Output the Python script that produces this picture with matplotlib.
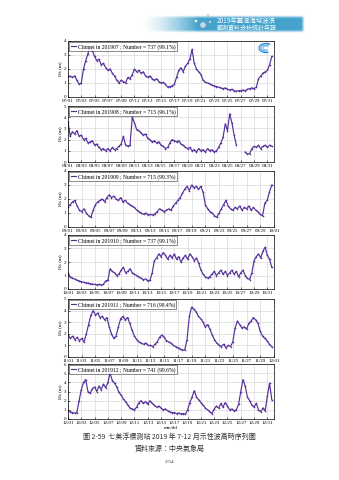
import numpy as np
import pandas as pd
import matplotlib
matplotlib.use("Agg")
import matplotlib.pyplot as plt
import matplotlib.dates as mdates
from matplotlib.patches import Arc, Circle

plt.rcParams['font.family'] = ['Liberation Serif', 'Noto Sans CJK TC', 'DejaVu Sans']

# ---- data: significant wave height, Chimei buoy, 8-hourly readings ----
station = "Chimei"
months = ["2019-07", "2019-08", "2019-09", "2019-10", "2019-11", "2019-12"]
record_counts = [737, 715, 715, 737, 716, 741]
record_rates = ["99.1%", "96.1%", "99.3%", "99.1%", "99.4%", "99.6%"]

hs_jul = [1.45, 1.5, 1.4, 1.5, 1.2, 0.9, 1.0, 2.0, 2.6, 3.1, 3.6, 3.3,
          2.9, 2.6, 2.7, 2.3, 2.4, 2.1, 1.9, 2.0, 1.7, 1.5, 1.2, 1.0,
          1.2, 1.1, 1.0, 1.4, 1.3, 1.6, 2.0, 1.8, 1.9, 1.7, 1.8, 1.5,
          1.4, 1.5, 1.3, 1.2, 1.3, 1.1, 1.0, 1.05, 0.9, 0.7, 0.75, 0.8,
          0.9, 1.4, 1.9, 2.1, 1.8, 2.2, 2.4, 2.7, 3.4, 2.4, 2.0, 1.8,
          1.6, 1.2, 1.05, 1.0, 0.95, 0.85, 0.8, 0.75, 0.7, 0.65, 0.6, 0.65,
          0.55, 0.5, 0.55, 0.45, 0.4, 0.45, 0.45, 0.5, 0.45, 0.55, 0.6, 0.65,
          0.6, 0.7, 1.3, 1.5, 1.7, 1.8, 1.9, 2.3, 2.9]

hs_aug = [3.6, 2.3, 2.7, 2.5, 2.8, 2.3, 2.4, 2.0, 2.1, 1.7, 1.8, 1.9,
          1.5, 1.6, 1.3, 1.1, 1.2, 1.0, 1.2, 1.0, 1.3, 1.1, 1.2, 1.4,
          1.6, 2.3, 1.5, 1.4, 1.5, 4.0, 3.5, 2.9, 2.8, 2.6, 2.4, 2.5,
          2.1, 2.0, 1.8, 1.9, 1.7, 1.8, 1.5, 1.4, 1.2, 1.3, 1.7, 2.0,
          1.9, 1.8, 1.9, 1.6, 1.5, 1.3, 1.2, 1.3, 1.0, 1.1, 0.9, 1.2,
          1.0, 1.1, 0.9, 1.2, 1.0, 1.1, 0.9, 1.0, 1.3, 1.7, 2.2, 3.4,
          2.8, 4.3, 3.5, 2.4, 1.5, np.nan, np.nan, np.nan, 0.9, 0.7, 0.75, 1.2,
          1.4, 1.3, 1.5, 1.2, 1.4, 1.5, 1.3, 1.5, 1.4]

hs_sep = [1.45, 1.6, 1.8, 1.9, 1.5, 1.2, 1.1, 1.3, 1.0, 0.8, 0.7, 1.2,
          1.6, 1.8, 1.9, 2.0, 1.8, 2.1, 2.3, 2.1, 2.2, 2.0, 1.9, 2.1,
          1.8, 1.9, 1.7, 1.6, 1.5, 1.4, 1.2, 1.1, 1.0, 0.9, 1.0, 0.85,
          0.9, 0.85, 0.95, 1.1, 1.3, 1.2, 1.1, 1.2, 1.3, 1.2, 1.5, 1.7,
          1.9, 2.1, 2.4, 2.7, 2.9, 2.6, 3.0, 2.8, 2.9, 2.7, 2.9, 2.5,
          1.6, 1.3, 1.1, 1.0, 0.8, 0.7, 1.0, 1.3, 1.6, 1.9, 1.5, 1.3,
          1.2, 1.4, 1.3, 1.5, 1.2, 1.4, 1.3, 1.5, 1.2, 1.4, 1.2, 1.1,
          0.9, 0.8, 1.7, 1.9, 2.5, 3.0]

hs_oct = [1.2, 0.9, 0.8, 0.75, 0.65, 0.6, 0.55, 0.5, 0.45, 0.45, 0.4, 0.35,
          0.35, 0.3, 0.35, 0.3, 0.35, 0.6, 0.65, 1.5, 1.3, 1.2, 1.0, 1.1,
          1.4, 1.6, 1.2, 1.3, 1.5, 1.2, 1.1, 1.0, 0.9, 0.8, 0.7, 0.75,
          0.6, 0.65, 1.2, 2.1, 2.3, 2.6, 2.4, 2.7, 2.5, 2.2, 2.5, 2.3,
          2.6, 2.2, 2.4, 2.0, 2.3, 2.5, 2.2, 2.6, 2.4, 2.1, 2.3, 1.9,
          1.4, 1.1, 0.9, 0.8, 0.9, 1.1, 1.3, 1.0, 1.2, 1.4, 1.1, 1.3,
          1.0, 1.2, 1.4, 1.1, 1.3, 0.9, 1.2, 1.4, 1.0, 0.8, 0.7, 1.2,
          2.1, 2.4, 2.6, 2.3, 2.8, 3.1, 2.5, 2.2, 1.6]

hs_nov = [1.9, 1.6, 1.8, 1.5, 1.7, 1.4, 1.6, 1.3, 2.0, 2.8, 3.6, 4.0,
          3.6, 3.8, 3.4, 3.5, 3.2, 3.4, 2.6, 2.0, 1.6, 1.8, 2.6, 3.3,
          3.5, 3.2, 3.4, 2.9, 2.3, 1.8, 1.5, 1.3, 1.2, 1.1, 1.2, 1.0,
          1.0, 0.9, 1.1, 1.3, 1.7, 1.9, 1.7, 1.4, 1.3, 1.2, 1.0, 0.9,
          0.8, 0.7, 0.6, 0.6, 1.5, 3.5, 4.3, 4.1, 3.9, 3.5, 3.3, 3.0,
          2.6, 2.8, 2.4, 1.9, 1.5, 1.2, 1.0, 0.9, 1.1, 0.8, 1.0, 0.9,
          1.3, 2.5, 3.1, 2.8, 2.5, 2.6, 2.4, 2.9, 3.1, 3.4, 3.2, 2.9,
          2.2, 1.8, 1.6, 1.4, 1.1, 0.9]

hs_dec = [1.0, 0.8, 0.7, 0.65, 0.7, 2.0, 3.2, 4.0, 4.3, 3.0, 2.8, 3.3,
          3.5, 3.0, 3.6, 3.2, 3.8, 3.4, 4.0, 5.0, 4.2, 3.9, 3.5, 2.9,
          2.6, 2.2, 1.9, 1.5, 1.2, 1.1, 1.0, 1.3, 1.8, 2.0, 1.7, 1.9,
          1.6, 2.0, 1.7, 1.5, 1.3, 1.4, 1.2, 1.0, 1.1, 0.9, 0.8, 0.7,
          0.7, 0.6, 0.65, 0.55, 0.6, 0.5, 1.0, 1.8, 2.4, 3.1, 2.4, 2.1,
          1.8, 1.5, 1.2, 1.0, 0.8, 0.6, 1.1, 1.4, 1.2, 1.7, 1.3, 1.8,
          1.4, 1.0, 1.1, 0.9, 1.0, 1.6, 3.0, 4.3, 3.6, 2.4, 2.0, 1.5,
          1.3, 1.7, 1.0, 0.8, 1.2, 0.9, 2.5, 3.9, 2.1]

series = [hs_jul, hs_aug, hs_sep, hs_oct, hs_nov, hs_dec]
y_tops = [4, 5, 4, 4, 5, 6]

# ---- layout (pixel boxes of the six panels) ----
W, H = 339, 480
fig = plt.figure(figsize=(W / 100, H / 100), dpi=100)
left_px, right_px = 68, 274
tops_px = [41, 106, 171, 235, 299, 364]
bots_px = [97, 162, 227, 289, 357, 419]

line_color = '#55309a'
grid_color = '#cfcfcf'

for i, (month, vals) in enumerate(zip(months, series)):
    ax = fig.add_axes([left_px / W, 1 - bots_px[i] / H,
                       (right_px - left_px) / W, (bots_px[i] - tops_px[i]) / H])
    start = pd.Timestamp(month + "-01")
    end = start + pd.offsets.MonthBegin(1)
    times = pd.date_range(start, periods=len(vals), freq='8h')
    label = f"{station} in {month.replace('-', '')} ; Number = {record_counts[i]} ({record_rates[i]})"
    ax.plot(times, vals, color=line_color, lw=0.85, marker='+', ms=1.6,
            mew=0.4, label=label)
    ax.set_xlim(start, end)
    ax.set_ylim(0, y_tops[i])
    ax.set_yticks(range(0, y_tops[i] + 1))
    ax.set_xticks(pd.date_range(start, end, freq='2D'))
    ax.xaxis.set_major_formatter(mdates.DateFormatter('%m/%d'))
    ax.grid(True, color=grid_color, lw=0.4)
    ax.set_axisbelow(True)
    ax.tick_params(axis='both', labelsize=3.6, direction='in', length=1.5,
                   width=0.4, pad=1.2)
    for s in ax.spines.values():
        s.set_linewidth(0.5)
    ax.set_ylabel('Hs (m)', fontsize=3.8, labelpad=1.5)
    leg = ax.legend(loc='upper left', fontsize=4.1, handlelength=0.9,
                    handletextpad=0.3, borderpad=0.25, borderaxespad=0.25,
                    frameon=True, fancybox=False)
    leg.get_frame().set_edgecolor('black')
    leg.get_frame().set_linewidth(0.4)
    for h in leg.legend_handles:
        h.set_marker('')
    if i == len(months) - 1:
        ax.set_xlabel('mm/dd', fontsize=3.6, labelpad=1.0)

# ---- small blue emblem at the top right of the first panel ----
def px(x, y):
    return (x / 100, (H - y) / 100)

for (w, h, c, lw) in [(14, 9, '#2b86d1', 0.9), (10, 6, '#4aa3e0', 0.8), (6, 3.5, '#7cc0ee', 0.7)]:
    fig.add_artist(Arc(px(266, 48), w / 100, h / 100, theta1=40, theta2=300,
                       color=c, lw=lw, transform=fig.dpi_scale_trans))

# ---- header banner ----
bax = fig.add_axes([140 / W, 1 - 33 / H, (305 - 140) / W, 18 / H])
bax.axis('off')
nx, ny = 300, 30
xr = np.linspace(0, 1, nx)
yr = np.linspace(-1, 1, ny)
alpha_x = np.clip((xr - 0.0) / 0.35, 0, 1) ** 1.5
alpha_x = alpha_x * np.clip((1 - xr) / 0.02, 0, 1)
alpha_y = np.clip((1 - np.abs(yr)) / 0.35, 0, 1)
alpha = np.outer(alpha_y, alpha_x)
img = np.zeros((ny, nx, 4))
img[..., 0] = 0.27
img[..., 1] = 0.64
img[..., 2] = 0.80
img[..., 3] = alpha
bax.imshow(img, aspect='auto', extent=(0, 1, 0, 1), interpolation='bilinear')
bax.set_xlim(0, 1)
bax.set_ylim(0, 1)

fig.text(217 / W, 1 - 21 / H, '2019年臺灣海域波浪', fontsize=4.6, color='white',
         ha='left', va='center', family=['Noto Sans CJK TC', 'DejaVu Sans'])
fig.text(217 / W, 1 - 28.5 / H, '觀測資料分析統計年報', fontsize=4.3, color='white',
         ha='left', va='center', family=['Noto Sans CJK TC', 'DejaVu Sans'])
for (cx, cy, r, fc, ec) in [(196, 21, 1.5, 'white', '#6a8fa8'), (203, 25, 3.2, '#bcd9e8', '#6a8fa8'),
                            (210, 22, 1.2, 'white', '#6a8fa8'), (208, 15.5, 1.0, 'white', '#9ab')]:
    fig.add_artist(Circle(px(cx, cy), r / 100, facecolor=fc, edgecolor=ec, lw=0.4,
                          transform=fig.dpi_scale_trans))

# ---- caption ----
cjk = ['Noto Sans CJK TC', 'DejaVu Sans']
fig.text(0.5, 1 - 437 / H, '圖 2-59  七美浮標測站 2019 年 7-12 月示性波高時序列圖',
         fontsize=5.0, ha='center', va='center', family=cjk, color='#333333')
fig.text(0.5, 1 - 449 / H, '資料來源：中央氣象局', fontsize=5.0, ha='center',
         va='center', family=cjk, color='#333333')
fig.text(0.5, 1 - 462 / H, '2-54', fontsize=3.8, ha='center', va='center',
         color='#333333')

fig.savefig('out.png', dpi=100)
